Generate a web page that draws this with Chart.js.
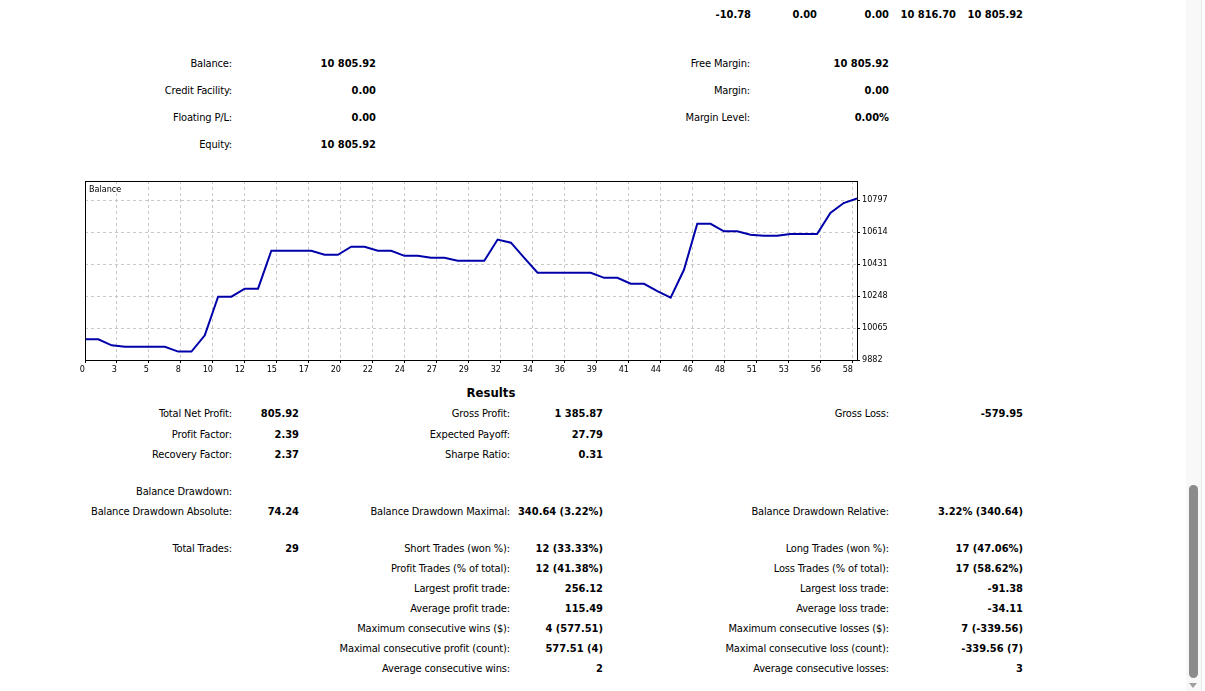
<!DOCTYPE html>
<html>
<head>
<meta charset="utf-8">
<script src="https://cdn.jsdelivr.net/npm/chart.js@4.4.0/dist/chart.umd.min.js"></script>
<style>
  html, body { margin: 0; padding: 0; background: #fff; overflow: hidden; }
  body { width: 1205px; height: 691px; position: relative;
         font-family: Tahoma, "DejaVu Sans Condensed", "DejaVu Sans", sans-serif; font-size: 11px; color: #000; }
  .c { position: absolute; white-space: nowrap; line-height: 14px; text-align: right; letter-spacing: -0.15px; }
  .b { font-weight: bold; letter-spacing: 0; }
  #wrap { position: absolute; left: 78px; top: 175px; width: 820px; height: 200px; }
  #chartTitle { position: absolute; left: 89px; top: 184px; font-size: 9px; line-height: 11px; }
  #results { position: absolute; left: 441px; width: 100px; top: 385px; text-align: center;
             font-weight: bold; font-size: 13px; line-height: 16px; }
  #track { position: absolute; left: 1186px; top: 0; width: 15px; height: 691px; background: #f8f8f8;
           border-right: 1px solid #e8e8e8; }
  #thumb { position: absolute; left: 1189px; top: 485px; width: 9px; height: 193px; border-radius: 5px; background: #8b8b8b; }
  #arrow { position: absolute; left: 1189px; top: 683px; width: 0; height: 0;
           border-left: 4px solid transparent; border-right: 4px solid transparent; border-top: 5px solid #a0a0a0; }
</style>
</head>
<body>
<div id="cells"></div>
<div id="wrap"><canvas id="graficoBalance"></canvas></div>
<div id="chartTitle">Balance</div>
<div id="results">Results</div>
<div id="track"></div>
<div id="thumb"></div>
<div id="arrow"></div>
<script>
// --- DATOS DEL GRÁFICO ---
const balance = [10000, 10000, 9966, 9958, 9958, 9958, 9958, 9930, 9930, 10023,
  10244, 10244, 10290, 10290, 10507, 10507, 10507, 10507, 10484, 10484,
  10530, 10530, 10507, 10507, 10478, 10478, 10467, 10467, 10450, 10450,
  10450, 10571, 10553, 10466, 10381, 10381, 10381, 10381, 10381, 10352,
  10352, 10318, 10318, 10276, 10238, 10398, 10661, 10661, 10618, 10618,
  10599, 10593, 10593, 10603, 10603, 10603, 10723, 10780, 10805.92];
const xTickLabels = ["0", "3", "5", "8", "10", "12", "15", "17", "20", "22", "24", "27", "29",
  "32", "34", "36", "39", "41", "44", "46", "48", "51", "53", "56", "58"];
const xTickStep = 2.404;
const yTickValues = [9882, 10065, 10248, 10431, 10614, 10797];
const yMin = 9882;
const yMax = 10906;

// --- TEXTOS DEL INFORME ---
const topRow = ["-10.78", "0.00", "0.00", "10 816.70", "10 805.92"];
const accountLeft = [["Balance:", "10 805.92"], ["Credit Facility:", "0.00"], ["Floating P/L:", "0.00"], ["Equity:", "10 805.92"]];
const accountRight = [["Free Margin:", "10 805.92"], ["Margin:", "0.00"], ["Margin Level:", "0.00%"]];
const resultRows = [
  [413, "Total Net Profit:", "805.92", "Gross Profit:", "1 385.87", "Gross Loss:", "-579.95"],
  [434, "Profit Factor:", "2.39", "Expected Payoff:", "27.79", "", ""],
  [454, "Recovery Factor:", "2.37", "Sharpe Ratio:", "0.31", "", ""],
  [491, "Balance Drawdown:", "", "", "", "", ""],
  [511, "Balance Drawdown Absolute:", "74.24", "Balance Drawdown Maximal:", "340.64 (3.22%)", "Balance Drawdown Relative:", "3.22% (340.64)"],
  [548, "Total Trades:", "29", "Short Trades (won %):", "12 (33.33%)", "Long Trades (won %):", "17 (47.06%)"],
  [568, "", "", "Profit Trades (% of total):", "12 (41.38%)", "Loss Trades (% of total):", "17 (58.62%)"],
  [588, "", "", "Largest profit trade:", "256.12", "Largest loss trade:", "-91.38"],
  [608, "", "", "Average profit trade:", "115.49", "Average loss trade:", "-34.11"],
  [628, "", "", "Maximum consecutive wins ($):", "4 (577.51)", "Maximum consecutive losses ($):", "7 (-339.56)"],
  [648, "", "", "Maximal consecutive profit (count):", "577.51 (4)", "Maximal consecutive loss (count):", "-339.56 (7)"],
  [668, "", "", "Average consecutive wins:", "2", "Average consecutive losses:", "3"]
];

const cells = document.getElementById("cells");
function place(text, right, y, bold) {
  if (!text) return;
  const d = document.createElement("div");
  d.className = "c" + (bold ? " b" : "");
  d.style.right = (1205 - right) + "px";
  d.style.top = (y - 6) + "px";
  d.textContent = text;
  cells.appendChild(d);
}

[751, 817, 889, 956, 1023].forEach((r, i) => place(topRow[i], r, 14, true));
accountLeft.forEach((row, i) => { place(row[0], 232, 63 + i * 27, false); place(row[1], 376, 63 + i * 27, true); });
accountRight.forEach((row, i) => { place(row[0], 750, 63 + i * 27, false); place(row[1], 889, 63 + i * 27, true); });
resultRows.forEach((row) => {
  const y = row[0];
  place(row[1], 232, y, false); place(row[2], 299, y, true);
  place(row[3], 510, y, false); place(row[4], 603, y, true);
  place(row[5], 889, y, false); place(row[6], 1023, y, true);
});

// --- GRÁFICO DE BALANCE ---
const marco = {
  id: "marco",
  afterDraw(chart) {
    const { ctx, chartArea: a } = chart;
    const al = (p) => Math.round(p - 0.5) + 0.5;
    ctx.save();
    ctx.strokeStyle = "#000";
    ctx.lineWidth = 1;
    ctx.strokeRect(al(a.left), al(a.top), al(a.right) - al(a.left), al(a.bottom) - al(a.top));
    ctx.restore();
  },
};

Chart.defaults.font.family = 'Tahoma, "DejaVu Sans Condensed", "DejaVu Sans", sans-serif';
Chart.defaults.font.size = 9;
Chart.defaults.color = "#000";

const ctx = document.getElementById("graficoBalance").getContext("2d");
new Chart(ctx, {
  type: "line",
  data: {
    datasets: [{
      label: "Balance",
      data: balance.map((v, i) => ({ x: i, y: v })),
      borderColor: "#0000aa",
      borderWidth: 2,
      pointRadius: 0,
      tension: 0,
      fill: false,
    }],
  },
  options: {
    responsive: true,
    maintainAspectRatio: false,
    animation: false,
    layout: { padding: { left: 7, top: 6, right: 0, bottom: 0 } },
    plugins: { legend: { display: false }, tooltip: { enabled: false } },
    scales: {
      x: {
        type: "linear",
        min: 0,
        max: balance.length - 1,
        afterBuildTicks: (s) => { s.ticks = xTickLabels.map((_, i) => ({ value: i * xTickStep })); },
        afterFit: (s) => { s.height = 15; s.paddingLeft = 0; s.paddingRight = 0; },
        ticks: { autoSkip: false, maxRotation: 0, minRotation: 0, align: "end", padding: 1,
                 callback: (v, i) => xTickLabels[i] },
        grid: { color: "#c8c8c8", tickColor: "#000", tickLength: 3 },
        border: { display: true, color: "#000", width: 1, dash: [3, 3] },
      },
      y: {
        position: "right",
        min: yMin,
        max: yMax,
        afterBuildTicks: (s) => { s.ticks = yTickValues.map((v) => ({ value: v })); },
        afterFit: (s) => { s.width = 41; s.paddingTop = 0; s.paddingBottom = 0; },
        ticks: { padding: 2, callback: (v) => String(v) },
        grid: { color: "#c8c8c8", tickColor: "#000", tickLength: 3 },
        border: { display: true, color: "#000", width: 1, dash: [3, 3] },
      },
    },
  },
  plugins: [marco],
});
</script>
</body>
</html>
